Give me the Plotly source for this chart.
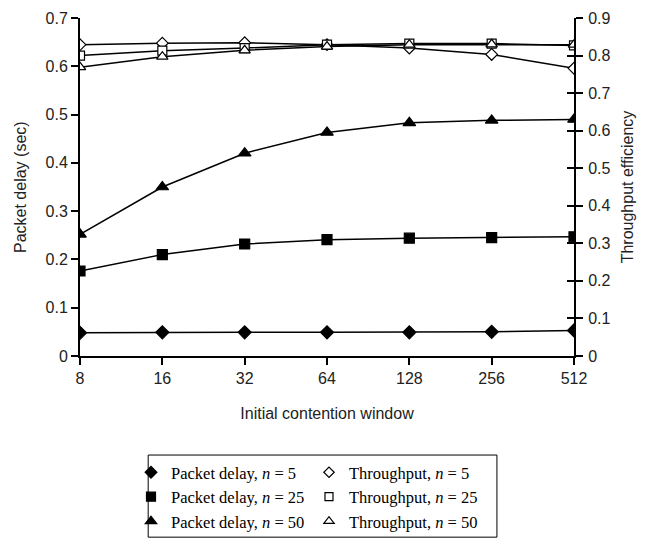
import plotly.graph_objects as go

windows = ["8", "16", "32", "64", "128", "256", "512"]
delay_n5 = [0.048, 0.049, 0.049, 0.049, 0.049, 0.050, 0.053]
delay_n25 = [0.176, 0.210, 0.232, 0.241, 0.244, 0.245, 0.247]
delay_n50 = [0.252, 0.350, 0.420, 0.463, 0.483, 0.488, 0.490]
thr_n5 = [0.829, 0.833, 0.834, 0.829, 0.820, 0.803, 0.766]
thr_n25 = [0.800, 0.813, 0.820, 0.829, 0.832, 0.832, 0.827]
thr_n50 = [0.769, 0.797, 0.814, 0.824, 0.829, 0.830, 0.829]

left_ticks = [0, 0.1, 0.2, 0.3, 0.4, 0.5, 0.6, 0.7]
right_ticks = [0, 0.1, 0.2, 0.3, 0.4, 0.5, 0.6, 0.7, 0.8, 0.9]

fig = go.Figure()
line = dict(color="black", width=1.5)

def add(y, name, sym, filled, axis, legend, size):
    mk = dict(symbol=sym, size=size, color="black" if filled else "white",
              line=dict(color="black", width=1.2))
    fig.add_trace(go.Scatter(
        x=windows, y=y, name=name, mode="lines+markers", yaxis=axis,
        line=line, marker=mk, showlegend=False,
    ))
    # legend entry: marker only
    fig.add_trace(go.Scatter(
        x=[None], y=[None], name=name, mode="markers", yaxis=axis,
        marker=dict(mk, size=size - 1), legend=legend, showlegend=True,
    ))

add(thr_n5, "Throughput, <i>n</i> = 5", "diamond", False, "y2", "legend2", 9)
add(thr_n25, "Throughput, <i>n</i> = 25", "square", False, "y2", "legend2", 9)
add(thr_n50, "Throughput, <i>n</i> = 50", "triangle-up", False, "y2", "legend2", 10)
add(delay_n5, "Packet delay, <i>n</i> = 5", "diamond", True, "y", "legend", 10)
add(delay_n25, "Packet delay, <i>n</i> = 25", "square", True, "y", "legend", 10)
add(delay_n50, "Packet delay, <i>n</i> = 50", "triangle-up", True, "y", "legend", 11)

axfont = dict(family="Liberation Sans, Arial", size=16, color="#222")
legfont = dict(family="Liberation Serif, Times New Roman", size=16.5, color="black")

fig.update_layout(
    width=649, height=540,
    margin=dict(l=80, r=75, t=18, b=184, autoexpand=False),
    paper_bgcolor="white", plot_bgcolor="white",
    font=axfont,
    xaxis=dict(
        type="category", range=[0, 6], showline=True, linecolor="black", linewidth=2,
        ticks="outside", ticklen=7, tickcolor="black", tickwidth=1.5, showgrid=False,
        title=dict(text="Initial contention window", font=axfont, standoff=22),
        tickfont=axfont, zeroline=False,
    ),
    yaxis=dict(
        range=[0, 0.7], tickvals=left_ticks, ticktext=[f"{v:g}" for v in left_ticks],
        showline=True, linecolor="black", linewidth=2, ticks="outside", ticklen=7,
        tickcolor="black", tickwidth=1.5, showgrid=False, zeroline=False,
        tickfont=axfont,
    ),
    yaxis2=dict(
        range=[0, 0.9], tickvals=right_ticks, ticktext=[f"{v:g}" for v in right_ticks],
        overlaying="y", side="right", showline=True, linecolor="black", linewidth=2,
        ticks="outside", ticklen=7, tickcolor="black", tickwidth=1.5, showgrid=False,
        zeroline=False, tickfont=axfont, ticklabelstandoff=2,
        title=dict(text="Throughput efficiency", font=axfont, standoff=12),
    ),
    yaxis3=dict(
        range=[0, 0.9], tickvals=right_ticks, overlaying="y", side="right",
        showticklabels=False, ticks="inside", ticklen=7, tickcolor="black", tickwidth=1.5,
        showgrid=False, zeroline=False, showline=False,
    ),
    annotations=[dict(text="Packet delay (sec)", xref="paper", yref="paper",
                      x=-60 / 494, y=0.5, textangle=-90, showarrow=False,
                      xanchor="center", yanchor="middle", font=axfont)],
    legend=dict(x=131 / 649, y=1 - 455 / 540, xref="container", yref="container",
                xanchor="left", yanchor="top", font=legfont,
                bgcolor="rgba(0,0,0,0)", tracegroupgap=0, itemwidth=30),
    legend2=dict(x=309 / 649, y=1 - 455 / 540, xref="container", yref="container",
                 xanchor="left", yanchor="top", font=legfont,
                 bgcolor="rgba(0,0,0,0)", tracegroupgap=0, itemwidth=30),
    shapes=[dict(type="rect", xref="paper", yref="paper", x0=0.138, x1=0.844,
                 y0=-0.536, y1=-0.293, line=dict(color="black", width=1))],
    showlegend=True,
)
fig.add_trace(go.Scatter(x=[windows[0]], y=[None], yaxis="y3", showlegend=False,
                         hoverinfo="skip"))

fig.write_html("out.html")
